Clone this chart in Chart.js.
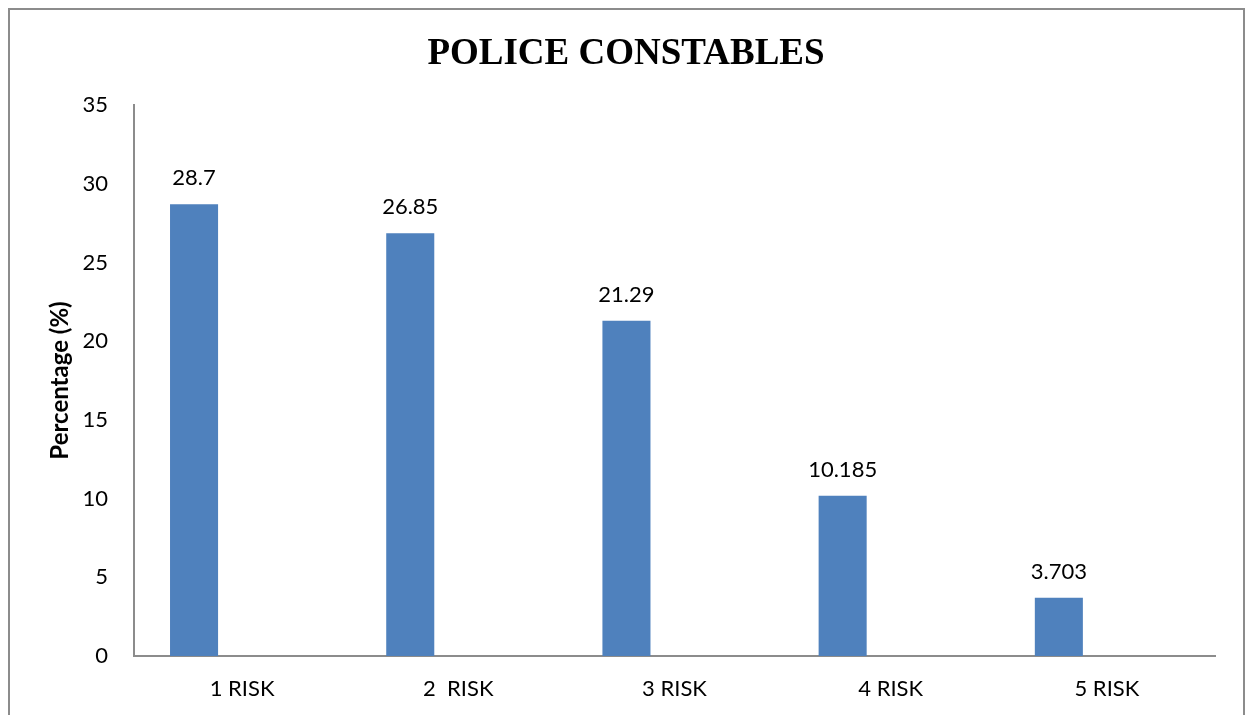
<!DOCTYPE html>
<html>
<head>
<meta charset="utf-8">
<script src="https://cdn.jsdelivr.net/npm/chart.js@4.4.1/dist/chart.umd.min.js"></script>
<style>
  html, body { margin: 0; padding: 0; background: #fff; overflow: hidden; }
  #wrap { position: relative; width: 1254px; height: 715px; }
  #frame { position: absolute; left: 8px; top: 8px; width: 1237px; height: 720px; border: 2px solid #8c8c8c; box-sizing: border-box; pointer-events: none; }
</style>
</head>
<body>
<div id="wrap">
  <canvas id="chart" width="1254" height="715"></canvas>
  <div id="frame"></div>
</div>
<script>
// risk groups and share of constables in each
const categories = ['1 RISK', '2  RISK', '3 RISK', '4 RISK', '5 RISK'];
const percentages = [28.7, 26.85, 21.29, 10.185, 3.703];
const blankSeries = [null, null, null, null, null];
const yTicks = [0, 5, 10, 15, 20, 25, 30, 35];

const chartTitle = 'POLICE CONSTABLES';
const yTitle = 'Percentage (%)';
const barColor = '#4f81bd';
const axisColor = '#8c8c8c';
const bodyFont = 'Lato, "Open Sans", sans-serif';

// draws the heading above the plot
const titlePlugin = {
    id: 'bigTitle',
    afterDraw(chart) {
        const ctx = chart.ctx;
        ctx.save();
        ctx.font = 'bold 37px "Liberation Serif", "Times New Roman", serif';
        ctx.fillStyle = '#000';
        ctx.textAlign = 'center';
        ctx.textBaseline = 'alphabetic';
        ctx.fillText(chartTitle, 626, 64);
        ctx.restore();
    }
};

// writes each value over its bar
const valueLabels = {
    id: 'valueLabels',
    afterDatasetsDraw(chart) {
        const ctx = chart.ctx;
        const meta = chart.getDatasetMeta(0);
        ctx.save();
        ctx.font = '22px ' + bodyFont;
        ctx.fillStyle = '#000';
        ctx.textAlign = 'center';
        ctx.textBaseline = 'alphabetic';
        meta.data.forEach((bar, i) => {
            ctx.fillText(String(percentages[i]), bar.x, bar.y - 19);
        });
        ctx.restore();
    }
};

new Chart(document.getElementById('chart').getContext('2d'), {
    type: 'bar',
    data: {
        labels: categories,
        datasets: [{
            data: percentages,
            backgroundColor: barColor,
            borderWidth: 0
        }, {
            data: blankSeries,
            backgroundColor: barColor
        }]
    },
    options: {
        responsive: false,
        animation: false,
        categoryPercentage: 0.889,
        barPercentage: 0.5,
        layout: { padding: { top: 105, right: 39, left: 0, bottom: 0 } },
        plugins: {
            legend: { display: false },
            title: { display: false },
            tooltip: { enabled: false }
        },
        scales: {
            x: {
                grid: { display: false, drawTicks: false },
                border: { display: true, color: axisColor, width: 2 },
                ticks: {
                    color: '#000',
                    font: { family: bodyFont, size: 22 },
                    padding: 20,
                    maxRotation: 0
                },
                afterFit(scale) { scale.height = 59; }
            },
            y: {
                min: 0,
                max: 35,
                afterBuildTicks(scale) {
                    scale.ticks = yTicks.map(v => ({ value: v }));
                },
                grid: { display: false, drawTicks: false },
                border: { display: true, color: axisColor, width: 2 },
                ticks: {
                    color: '#000',
                    font: { family: bodyFont, size: 22 },
                    padding: 26
                },
                title: {
                    display: true,
                    text: yTitle,
                    color: '#000',
                    font: { family: bodyFont, size: 24, weight: 'bold' },
                    padding: { top: 46, bottom: 0 }
                },
                afterFit(scale) { scale.width = 134; }
            }
        }
    },
    plugins: [titlePlugin, valueLabels]
});
</script>
</body>
</html>
